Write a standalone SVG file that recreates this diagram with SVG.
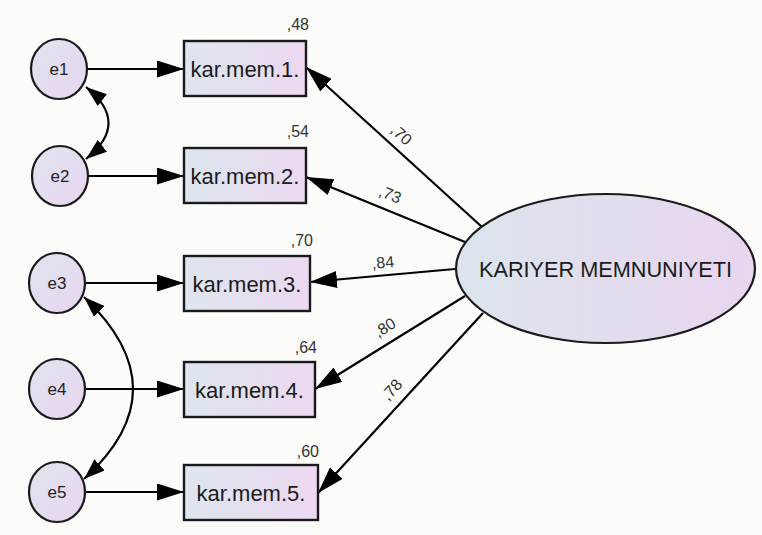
<svg xmlns="http://www.w3.org/2000/svg" width="762" height="535" viewBox="0 0 762 535">
  <defs>
    <linearGradient id="fillObs" x1="0" y1="0" x2="1" y2="0">
      <stop offset="0" stop-color="#dde6ee"/>
      <stop offset="1" stop-color="#ecd8f1"/>
    </linearGradient>
    <linearGradient id="fillErr" x1="0" y1="0" x2="1" y2="1">
      <stop offset="0" stop-color="#e0e4ef"/>
      <stop offset="1" stop-color="#e9d5ef"/>
    </linearGradient>
    <linearGradient id="fillLat" x1="0" y1="0" x2="1" y2="0">
      <stop offset="0" stop-color="#dbe5ec"/>
      <stop offset="1" stop-color="#e9d5f0"/>
    </linearGradient>
    <marker id="head" markerUnits="userSpaceOnUse" markerWidth="27" markerHeight="17" refX="27" refY="8.5" orient="auto">
      <path d="M0,0 L27,8.5 L0,17 z" fill="#000"/>
    </marker>
    <marker id="headCov" markerUnits="userSpaceOnUse" markerWidth="21" markerHeight="15" refX="21" refY="7.5" orient="auto-start-reverse">
      <path d="M0,0 L21,7.5 L0,15 z" fill="#000"/>
    </marker>
  </defs>
  <style>
    .box { fill: url(#fillObs); stroke: #1a1a1a; stroke-width: 2.4; }
    .err { fill: url(#fillErr); stroke: #1a1a1a; stroke-width: 2.2; }
    .lat { fill: url(#fillLat); stroke: #1a1a1a; stroke-width: 2.2; }
    .edge { stroke: #000; stroke-width: 2.2; fill: none; marker-end: url(#head); }
    .cov { stroke: #000; stroke-width: 2.2; fill: none; marker-start: url(#headCov); marker-end: url(#headCov); }
    text { font-family: "Liberation Sans", Arial, sans-serif; fill: #1a1a1a; }
    .lbl { font-size: 22px; text-anchor: middle; }
    .elbl { font-size: 17px; text-anchor: middle; fill: #222; }
    .num { font-size: 16px; fill: #333; }
    .r2 { text-anchor: end; }
    .load { text-anchor: middle; }
  </style>

  <rect width="762" height="535" fill="#fcfdfb"/>

  <!-- connectors -->
  <g id="connectors">
    <!-- error terms to indicators -->
    <line class="edge" x1="87" y1="69" x2="184" y2="69"/>
    <line class="edge" x1="88" y1="176" x2="184" y2="176"/>
    <line class="edge" x1="85" y1="283" x2="184" y2="283"/>
    <line class="edge" x1="85" y1="389" x2="184" y2="389"/>
    <line class="edge" x1="85" y1="492" x2="184" y2="492"/>
    <!-- covariances -->
    <path class="cov" d="M86,87 Q131,123 86,159"/>
    <path class="cov" d="M84,297 Q182,390 84,479"/>
    <!-- loadings from the latent factor -->
    <line class="edge" x1="482" y1="227" x2="306" y2="67"/>
    <line class="edge" x1="465" y1="242" x2="306" y2="177"/>
    <line class="edge" x1="455" y1="269" x2="310" y2="282"/>
    <line class="edge" x1="465" y1="296" x2="315" y2="389"/>
    <line class="edge" x1="483" y1="313" x2="318" y2="493"/>
    <!-- standardized loadings -->
    <text class="num load" transform="translate(401,135) rotate(42.3)" y="5">,70</text>
    <text class="num load" transform="translate(390,195) rotate(22.2)" y="5">,73</text>
    <text class="num load" transform="translate(383,263) rotate(-5.1)" y="5">,84</text>
    <text class="num load" transform="translate(385,328) rotate(-31.8)" y="5">,80</text>
    <text class="num load" transform="translate(392,390) rotate(-47.5)" y="5">,78</text>
  </g>

  <!-- error terms -->
  <g id="e1"><ellipse class="err" cx="59" cy="69" rx="28" ry="30"/><text class="elbl" x="59" y="75">e1</text></g>
  <g id="e2"><ellipse class="err" cx="60" cy="176" rx="28" ry="30"/><text class="elbl" x="60" y="182">e2</text></g>
  <g id="e3"><ellipse class="err" cx="57" cy="283" rx="28" ry="30"/><text class="elbl" x="57" y="289">e3</text></g>
  <g id="e4"><ellipse class="err" cx="57" cy="389" rx="28" ry="30"/><text class="elbl" x="57" y="395">e4</text></g>
  <g id="e5"><ellipse class="err" cx="57" cy="492" rx="28" ry="30"/><text class="elbl" x="57" y="498">e5</text></g>

  <!-- observed indicators with squared multiple correlations -->
  <g id="km1"><rect class="box" x="184" y="41" width="122" height="55"/><text class="lbl" x="245" y="76.5">kar.mem.1.</text><text class="num r2" x="309" y="30">,48</text></g>
  <g id="km2"><rect class="box" x="184" y="148" width="122" height="55"/><text class="lbl" x="245" y="183.5">kar.mem.2.</text><text class="num r2" x="309" y="137">,54</text></g>
  <g id="km3"><rect class="box" x="184" y="256" width="126" height="55"/><text class="lbl" x="247" y="291.5">kar.mem.3.</text><text class="num r2" x="313" y="246">,70</text></g>
  <g id="km4"><rect class="box" x="184" y="362" width="131" height="55"/><text class="lbl" x="249.5" y="397.5">kar.mem.4.</text><text class="num r2" x="317" y="353">,64</text></g>
  <g id="km5"><rect class="box" x="184" y="465" width="134" height="55"/><text class="lbl" x="251" y="500.5">kar.mem.5.</text><text class="num r2" x="319" y="457">,60</text></g>

  <!-- latent factor -->
  <g id="kariyer">
    <ellipse class="lat" cx="605.5" cy="268.5" rx="149.5" ry="74.5"/>
    <text x="605.5" y="276.5" font-size="21.5" text-anchor="middle" textLength="253" lengthAdjust="spacingAndGlyphs">KARIYER MEMNUNIYETI</text>
  </g>
</svg>
